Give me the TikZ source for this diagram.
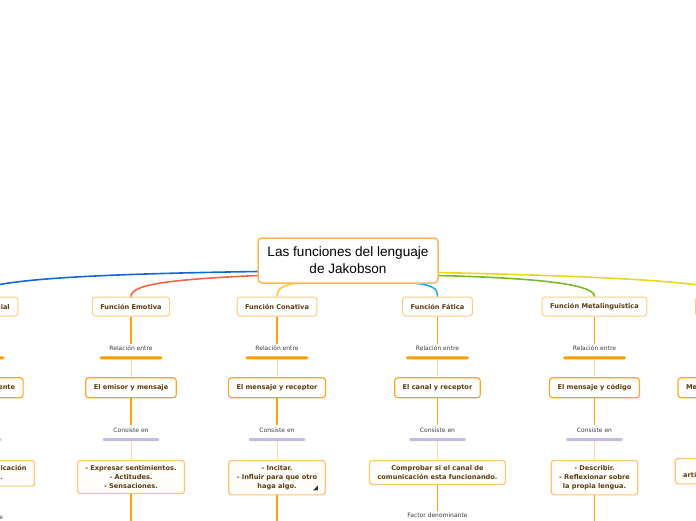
\documentclass[tikz,border=0pt]{standalone}
\usepackage{fontspec}
\setmainfont{DejaVu Sans}
\newfontfamily\titlefont{Liberation Sans}
\usetikzlibrary{positioning}

\definecolor{boxtext}{HTML}{5C3A0E}
\definecolor{lbltext}{HTML}{3A3A3A}
\definecolor{titleline}{HTML}{FFB55A}
\definecolor{fnline}{HTML}{FFCB80}
\definecolor{pairline}{HTML}{FFA520}
\definecolor{detline}{HTML}{FFC56B}
\definecolor{detfill}{HTML}{FFFEFA}
\definecolor{stemcol}{HTML}{FFA000}
\definecolor{thincol}{HTML}{FFD9A6}
\definecolor{relcol}{HTML}{FF9C00}
\definecolor{concol}{HTML}{C3BCE0}
\definecolor{bluebr}{HTML}{1565D8}
\definecolor{redbr}{HTML}{F06543}
\definecolor{goldbr}{HTML}{FFC83D}
\definecolor{skybr}{HTML}{2BA8E8}
\definecolor{greenbr}{HTML}{78B928}
\definecolor{yellowbr}{HTML}{E8D81A}

\begin{document}
\begin{tikzpicture}[
    x=1pt, y=-1pt,
    node distance=27pt,
    topic/.style={rectangle, rounded corners=3pt, draw=fnline, line width=1pt, fill=white, text=boxtext, align=center, font=\bfseries\fontsize{6.6}{9}\selectfont, minimum height=19pt, inner xsep=8pt},
    pair/.style={topic, draw=pairline, line width=1.2pt, minimum height=20pt},
    detail/.style={topic, draw=detline, line width=1.2pt, fill=detfill, inner ysep=5pt},
    lbl/.style={font=\fontsize{6}{7.5}\selectfont, text=lbltext, inner sep=2pt},
    relbar/.style={fill=relcol, minimum width=63pt, minimum height=3pt, inner sep=0pt, rounded corners=1.5pt},
    conbar/.style={fill=concol, minimum width=57pt, minimum height=3pt, inner sep=0pt, rounded corners=1.5pt},
    stem/.style={draw=stemcol, line width=1.5pt},
    twig/.style={draw=thincol, line width=1pt},
    branch/.style={line width=1.6pt},
    central/.style={rectangle, rounded corners=4pt, draw=titleline, line width=1.5pt, fill=white, align=center,
        minimum width=180pt, minimum height=45pt, font=\titlefont\fontsize{13.6}{17}\selectfont}
]
\useasboundingbox (0,0) rectangle (696,520);
\clip (0,0) rectangle (696,520);

% functions
\node (fnref) [topic] at (-27,306.5) {Función Referencial};
\node (fnemo) [topic] at (131,306.5) {Función Emotiva};
\node (fncon) [topic] at (277,306.5) {Función Conativa};
\node (fnfat) [topic] at (437.5,306.5) {Función Fática};
\node (fnmet) [topic] at (594.5,306.5) {Función Metalinguistica};
\node (fnpoe) [topic] at (733,306.5) {Función Poética};

% branches, drawn under the central topic
\coordinate (mid) at (348,260.5);
\draw[branch, bluebr] ([shift={(-90pt,-11pt)}]mid) .. controls +(-200,3) and +(0,-15) .. (fnref.north);
\draw[branch, redbr] ([shift={(-90pt,-15pt)}]mid) .. controls +(-90,4) and +(0,-12) .. (fnemo.north);
\draw[branch, goldbr] ([shift={(-50pt,-22.5pt)}]mid) .. controls +(-15,2) and +(0,-8) .. (fncon.north);
\draw[branch, skybr] ([shift={(65pt,-22.5pt)}]mid) .. controls +(20,2) and +(0,-8) .. (fnfat.north);
\draw[branch, greenbr] ([shift={(90pt,-15pt)}]mid) .. controls +(120,3) and +(0,-10) .. (fnmet.north);
\draw[branch, yellowbr] ([shift={(90pt,-12pt)}]mid) .. controls +(220,5) and +(0,-12) .. (fnpoe.north);

% central topic
\node (title) [central] at (mid) {Las funciones del lenguaje\\de Jakobson};

% "Relación entre"
\node (relref) [lbl, below=of fnref] {Relación entre};
\node (relemo) [lbl, below=of fnemo] {Relación entre};
\node (relcon) [lbl, below=of fncon] {Relación entre};
\node (relfat) [lbl, below=of fnfat] {Relación entre};
\node (relmet) [lbl, below=of fnmet] {Relación entre};
\node (relpoe) [lbl, below=of fnpoe] {Relación entre};

\node (rbref) [relbar, below=3.5pt of relref] {};
\node (rbemo) [relbar, below=3.5pt of relemo] {};
\node (rbcon) [relbar, below=3.5pt of relcon] {};
\node (rbfat) [relbar, below=3.5pt of relfat] {};
\node (rbmet) [relbar, below=3.5pt of relmet] {};
\node (rbpoe) [relbar, below=3.5pt of relpoe] {};

% pairs
\node (prref) [pair, below=17.5pt of rbref] {El mensaje y referente};
\node (premo) [pair, below=17.5pt of rbemo] {El emisor y mensaje};
\node (prcon) [pair, below=17.5pt of rbcon] {El mensaje y receptor};
\node (prfat) [pair, below=17.5pt of rbfat] {El canal y receptor};
\node (prmet) [pair, below=17.5pt of rbmet] {El mensaje y código};
\node (prpoe) [pair, below=17.5pt of rbpoe] {Mensaje y forma estética};

% "Consiste en"
\node (csref) [lbl, below=of prref] {Consiste en};
\node (csemo) [lbl, below=of premo] {Consiste en};
\node (cscon) [lbl, below=of prcon] {Consiste en};
\node (csfat) [lbl, below=of prfat] {Consiste en};
\node (csmet) [lbl, below=of prmet] {Consiste en};
\node (cspoe) [lbl, below=of prpoe] {Consiste en};

\node (cbref) [conbar, below=3.5pt of csref] {};
\node (cbemo) [conbar, below=3.5pt of csemo] {};
\node (cbcon) [conbar, below=3.5pt of cscon] {};
\node (cbfat) [conbar, below=3.5pt of csfat] {};
\node (cbmet) [conbar, below=3.5pt of csmet] {};
\node (cbpoe) [conbar, below=3.5pt of cspoe] {};

% details
\node (dtref) [detail, below=18.5pt of cbref] {Transmitir una comunicación\\objetiva y clara.};
\node (dtemo) [detail, below=18.5pt of cbemo] {- Expresar sentimientos.\\- Actitudes.\\- Sensaciones.};
\node (dtcon) [detail, below=18.5pt of cbcon] {- Incitar.\\- Influir para que otro\\haga algo.};
\node (dtfat) [detail, below=18.5pt of cbfat] {Comprobar si el canal de\\comunicación esta funcionando.};
\node (dtmet) [detail, below=18.5pt of cbmet] {- Describir.\\- Reflexionar sobre\\la propia lengua.};
\node (dtpoe) [detail, below=16.5pt of cbpoe] {Cuidar y embellecer\\artísticamente el mensaje.};

\fill[black!80] ([xshift=-8pt,yshift=5pt]dtcon.south east) -- ++(0,-5) -- ++(-5,5) -- cycle;

% next level
\node (fcref) [lbl, below=26pt of dtref] {Factor denominante};
\node (fcfat) [lbl, below=26pt of dtfat] {Factor denominante};
\coordinate (tlemo) at ([yshift=-40pt]dtemo.south);
\coordinate (tlcon) at ([yshift=-40pt]dtcon.south);
\coordinate (tlmet) at ([yshift=-40pt]dtmet.south);

% connectors
\draw[stem] (fnref) -- (relref);
\draw[stem] (fnemo) -- (relemo);
\draw[stem] (fncon) -- (relcon);
\draw[stem] (fnfat) -- (relfat);
\draw[stem] (fnmet) -- (relmet);
\draw[stem] (fnpoe) -- (relpoe);

\draw[twig] (rbref) -- (prref);
\draw[twig] (rbemo) -- (premo);
\draw[twig] (rbcon) -- (prcon);
\draw[twig] (rbfat) -- (prfat);
\draw[twig] (rbmet) -- (prmet);
\draw[twig] (rbpoe) -- (prpoe);

\draw[stem] (prref) -- (csref);
\draw[stem] (premo) -- (csemo);
\draw[stem] (prcon) -- (cscon);
\draw[stem] (prfat) -- (csfat);
\draw[stem] (prmet) -- (csmet);
\draw[stem] (prpoe) -- (cspoe);

\draw[twig] (cbref) -- (dtref);
\draw[twig] (cbemo) -- (dtemo);
\draw[twig] (cbcon) -- (dtcon);
\draw[twig] (cbfat) -- (dtfat);
\draw[twig] (cbmet) -- (dtmet);
\draw[twig] (cbpoe) -- (dtpoe);

\draw[stem] (dtref) -- (fcref);
\draw[stem] (dtemo) -- (tlemo);
\draw[stem] (dtcon) -- (tlcon);
\draw[stem] (dtfat) -- (fcfat);
\draw[stem] (dtmet) -- (tlmet);

\end{tikzpicture}
\end{document}
